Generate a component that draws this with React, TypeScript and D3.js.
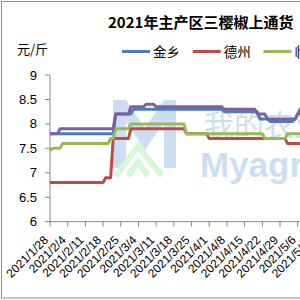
import React from 'react';
import * as d3 from 'd3';

// categories: one point per day, 2021/1/28 .. 2021/5/9
const firstDay = '2021/1/28';
const lastDay = '2021/5/9';

const tickLabels = [
  '2021/1/28', '2021/2/4', '2021/2/11', '2021/2/18', '2021/2/25', '2021/3/4',
  '2021/3/11', '2021/3/18', '2021/3/25', '2021/4/1', '2021/4/8', '2021/4/15',
  '2021/4/22', '2021/4/29', '2021/5/6', '2021/5/13',
];

const yTicks = [6, 6.5, 7, 7.5, 8, 8.5, 9];

const seriesNames = ['金乡', '德州', '临邑', '柘城'];
const seriesColors = ['#4A7EBB', '#BE4B48', '#98B954', '#7D60A0'];

// 金乡
const jinxiang = [
  7.8, 7.8, 7.8, 7.8, 7.8, 7.8, 7.8, 7.8, 7.8, 7.8,
  7.8, 7.8, 7.8, 7.8, 7.8, 7.8, 7.8, 7.8, 7.8, 7.8,
  7.8, 7.8, 7.8, 7.8, 7.8, 7.8, 8.2, 8.2, 8.2, 8.2,
  8.2, 8.2, 8.2, 8.3, 8.3, 8.3, 8.3, 8.3, 8.3, 8.3,
  8.3, 8.3, 8.3, 8.3, 8.3, 8.3, 8.3, 8.3, 8.3, 8.3,
  8.3, 8.3, 8.3, 8.3, 8.3, 8.3, 8.3, 8.3, 8.3, 8.3,
  8.3, 8.3, 8.3, 8.3, 8.3, 8.3, 8.3, 8.3, 8.3, 8.25,
  8.25, 8.25, 8.25, 8.25, 8.25, 8.25, 8.25, 8.25, 8.25, 8.25,
  8.25, 8.25, 8.25, 8.1, 8.1, 8.1, 8.1, 8.05, 8.05, 8.05,
  8.05, 8.05, 8.05, 8.05, 8.05, 8.05, 8.05, 8.1, 8.2, 8.2,
  8.2, 8.2,
];

// 德州
const dezhou = [
  6.8, 6.8, 6.8, 6.8, 6.8, 6.8, 6.8, 6.8, 6.8, 6.8,
  6.8, 6.8, 6.8, 6.8, 6.8, 6.8, 6.8, 6.8, 6.8, 6.8,
  6.8, 6.8, 6.9, 6.9, 6.9, 7.7, 7.7, 7.7, 7.7, 7.7,
  7.7, 7.7, 7.9, 7.9, 7.9, 7.9, 7.9, 7.9, 7.9, 7.9,
  7.9, 7.9, 7.9, 7.9, 7.9, 7.9, 7.9, 7.9, 7.9, 7.9,
  7.9, 7.9, 7.9, 7.9, 7.8, 7.8, 7.8, 7.8, 7.8, 7.8,
  7.8, 7.8, 7.8, 7.7, 7.7, 7.7, 7.7, 7.7, 7.7, 7.7,
  7.7, 7.7, 7.7, 7.7, 7.7, 7.7, 7.7, 7.7, 7.7, 7.7,
  7.7, 7.7, 7.7, 7.7, 7.7, 7.7, 7.7, 7.7, 7.7, 7.7,
  7.7, 7.7, 7.7, 7.7, 7.6, 7.6, 7.6, 7.6, 7.6, 7.6,
  7.6, 7.6,
];

// 临邑
const linyi = [
  7.45, 7.5, 7.5, 7.5, 7.5, 7.6, 7.6, 7.6, 7.6, 7.6,
  7.6, 7.6, 7.6, 7.6, 7.6, 7.6, 7.6, 7.6, 7.6, 7.6,
  7.6, 7.6, 7.6, 7.6, 7.7, 7.7, 7.9, 7.9, 7.9, 7.9,
  7.9, 7.9, 8.0, 8.0, 8.0, 8.0, 8.0, 8.0, 8.0, 8.0,
  8.0, 8.0, 8.0, 8.0, 8.0, 8.0, 8.0, 8.0, 8.0, 8.0,
  8.0, 8.0, 8.0, 8.0, 7.8, 7.8, 7.8, 7.8, 7.8, 7.8,
  7.8, 7.8, 7.8, 7.8, 7.8, 7.8, 7.8, 7.8, 7.8, 7.8,
  7.8, 7.8, 7.8, 7.8, 7.8, 7.8, 7.8, 7.8, 7.8, 7.8,
  7.8, 7.8, 7.8, 7.8, 7.8, 7.7, 7.7, 7.7, 7.7, 7.7,
  7.7, 7.7, 7.7, 7.7, 7.8, 7.8, 7.8, 7.8, 7.8, 7.8,
  7.8, 7.8,
];

// 柘城
const zhecheng = [
  7.8, 7.8, 7.8, 7.8, 7.9, 7.9, 7.9, 7.9, 7.9, 7.9,
  7.9, 7.9, 7.9, 7.9, 7.9, 7.9, 7.9, 7.9, 7.9, 7.9,
  7.9, 7.9, 7.9, 7.9, 7.9, 7.9, 8.2, 8.2, 8.2, 8.2,
  8.2, 8.2, 8.35, 8.35, 8.35, 8.35, 8.35, 8.35, 8.4, 8.4,
  8.4, 8.4, 8.35, 8.35, 8.35, 8.35, 8.35, 8.35, 8.35, 8.35,
  8.35, 8.35, 8.35, 8.35, 8.35, 8.35, 8.35, 8.35, 8.35, 8.35,
  8.35, 8.35, 8.35, 8.35, 8.35, 8.35, 8.35, 8.35, 8.35, 8.3,
  8.3, 8.3, 8.3, 8.3, 8.3, 8.3, 8.3, 8.3, 8.3, 8.3,
  8.3, 8.3, 8.2, 8.2, 8.2, 8.2, 8.1, 8.1, 8.1, 8.1,
  8.1, 8.1, 8.1, 8.1, 8.1, 8.1, 8.1, 8.1, 8.2, 8.3,
  8.3, 8.3,
];

const seriesValues = [jinxiang, dezhou, linyi, zhecheng];

const parseDate = d3.timeParse('%Y/%m/%d');

const App = () => {
  const width = 300;
  const height = 300;
  const axisColor = '#868686';
  const font = '"Liberation Sans", Arial, sans-serif';
  const cjk = '"Noto Sans CJK SC", sans-serif';

  const days = d3.timeDay.range(parseDate(firstDay)!, d3.timeDay.offset(parseDate(lastDay)!, 1));
  const tickDates = tickLabels.map(t => parseDate(t)!);

  const x = d3.scaleTime()
    .domain([tickDates[0], tickDates[14]])
    .range([50, 297.7]);
  const y = d3.scaleLinear().domain([6, 9]).range([221.7, 75]);

  const line = d3.line<number>()
    .x((_, i) => x(days[i]))
    .y(d => y(d));

  return (
    <svg width={width} height={height} style={{ position: 'absolute', left: 0, top: 0, background: '#fff' }}>
      <rect x={1.5} y={1.5} width={400} height={296.5} fill="#fff" stroke="#8c8c8c" />

      {/* watermark */}
      <g opacity={0.5}>
        <path d="M113,100 L126,100 L145,128 L164,100 L176,100 L176,168 L164,168 L164,122 L145,150 L126,122 L126,168 L113,168 Z" fill="#9fbfe6" />
        <path d="M116,176 L138,146 L162,176 M128,176 L138,162 L148,176" fill="none" stroke="#b2efb2" strokeWidth={6} />
        <text x={204} y={136} fontFamily={cjk} fontSize={30} fill="#9fbfe6">我的农业</text>
        <text x={200} y={177} fontFamily={font} fontSize={35} fontWeight="bold" fill="#9fbfe6">Myagri</text>
      </g>

      <text x={108} y={28} fontFamily={cjk} fontSize={15} fontWeight="bold" fill="#000">2021年主产区三樱椒上通货</text>
      <text x={17} y={54} fontFamily={cjk} fontSize={13} fill="#000">元/斤</text>

      {seriesNames.map((name, i) => (
        <g key={name} transform={`translate(${122 + i * 70.7},51.5)`}>
          <line x1={0} x2={28} y1={0} y2={0} stroke={seriesColors[i]} strokeWidth={3} />
          <text x={31} y={5} fontFamily={cjk} fontSize={13.5} fill="#000">{name}</text>
        </g>
      ))}

      {/* y axis */}
      <line x1={50} x2={50} y1={y(9)} y2={y(6)} stroke={axisColor} />
      {yTicks.map(t => (
        <g key={t} transform={`translate(0,${y(t)})`}>
          <line x1={45} x2={50} stroke={axisColor} />
          <text x={37} dy="0.35em" textAnchor="end" fontFamily={font} fontSize={13} fill="#000">{t}</text>
        </g>
      ))}

      {/* x axis */}
      <line x1={50} x2={width} y1={y(6)} y2={y(6)} stroke={axisColor} />
      {tickDates.map((d, i) => (
        <g key={i} transform={`translate(${x(d)},${y(6)})`}>
          <line y1={0} y2={5} stroke={axisColor} />
          <text transform="translate(-1,19) rotate(-45)" textAnchor="end" fontFamily={font} fontSize={12} fill="#000">
            {tickLabels[i]}
          </text>
        </g>
      ))}

      {seriesValues.map((vals, i) => (
        <path key={i} d={line(vals) ?? ''} fill="none" stroke={seriesColors[i]} strokeWidth={3} strokeLinejoin="round" />
      ))}
    </svg>
  );
};

export default App;
